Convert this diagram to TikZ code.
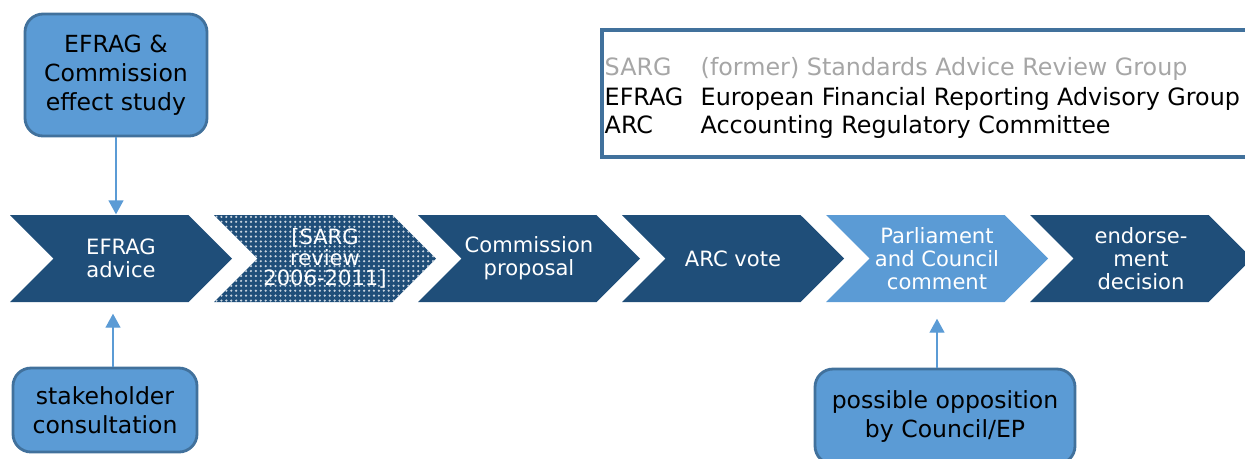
\documentclass[tikz,border=0pt]{standalone}
\usepackage{fontspec}
\setmainfont{DejaVu Sans}
\usetikzlibrary{shapes.symbols,patterns.meta,arrows.meta}
\definecolor{efnavy}{HTML}{1F4E79}
\definecolor{eflight}{HTML}{5B9BD5}
\definecolor{efedge}{HTML}{41719C}
\definecolor{efgrey}{HTML}{A6A6A6}
\tikzset{
  chevbase/.style={signal, signal to=east, signal from=west, signal pointer angle=90,
    minimum width=2.22cm, minimum height=0.87cm, inner sep=0pt, text=white, align=center,
    font=\fontsize{6}{6.5}\selectfont},
  chev/.style={chevbase, fill=efnavy},
  note/.style={draw=efedge, line width=0.8pt, fill=eflight, rounded corners=0.18cm,
    align=center, font=\fontsize{6.7}{8.3}\selectfont},
  link/.style={draw=eflight, line width=0.4pt, -{Triangle[width=0.15cm,length=0.14cm]}},
  legend/.style={anchor=base west, inner sep=0pt, font=\fontsize{6.78}{8.3}\selectfont}
}
\begin{document}
\begin{tikzpicture}
\useasboundingbox (0,0) rectangle (12.45,-4.58);
% process chain
\node[chev] (adv) at (1.21,-2.585) {EFRAG\\advice};
\node[chevbase, preaction={fill=efnavy}, pattern={Dots[distance=1.4pt,radius=0.35pt]}, pattern color=white!75!efnavy,
  font=\fontsize{6}{5.9}\selectfont] (sarg) at (3.25,-2.585) {[SARG\\review\\2006-2011]};
\node[chev] (prop) at (5.29,-2.585) {Commission\\proposal};
\node[chev] (arc) at (7.33,-2.585) {ARC vote};
\node[chevbase, fill=eflight] (parl) at (9.37,-2.585) {Parliament\\and Council\\comment};
\node[chev] (endo) at (11.41,-2.585) {endorse-\\ment\\decision};
% inputs
\node[note, minimum width=1.82cm, minimum height=1.22cm] (study) at (1.16,-0.75) {EFRAG \&\\Commission\\effect study};
\node[note, minimum width=1.84cm, minimum height=0.84cm] (stake) at (1.05,-4.10) {stakeholder\\consultation};
\node[note, minimum width=2.60cm, minimum height=0.95cm] (opp) at (9.45,-4.165) {possible opposition\\by Council/EP};
\draw[link] (study.south) -- (study.south |- adv.north);
\draw[link, shorten >=0.11cm] ([xshift=0.08cm]stake.north) -- ([xshift=0.08cm]stake.north |- adv.south);
\draw[link, shorten >=0.16cm] (opp.north -| parl.south) -- (parl.south);
% legend
\draw[efedge, line width=1pt] (6.02,-0.30) rectangle (12.60,-1.57);
\node[legend, text=efgrey] (sargk) at (6.04,-0.755) {SARG};
\node[legend, text=efgrey] (sargv) at (7.00,-0.755) {(former) Standards Advice Review Group};
\node[legend] (efragk) at (6.04,-1.055) {EFRAG};
\node[legend] (efragv) at (7.00,-1.055) {European Financial Reporting Advisory Group};
\node[legend] (arck) at (6.04,-1.335) {ARC};
\node[legend] (arcv) at (7.00,-1.335) {Accounting Regulatory Committee};
\end{tikzpicture}
\end{document}
